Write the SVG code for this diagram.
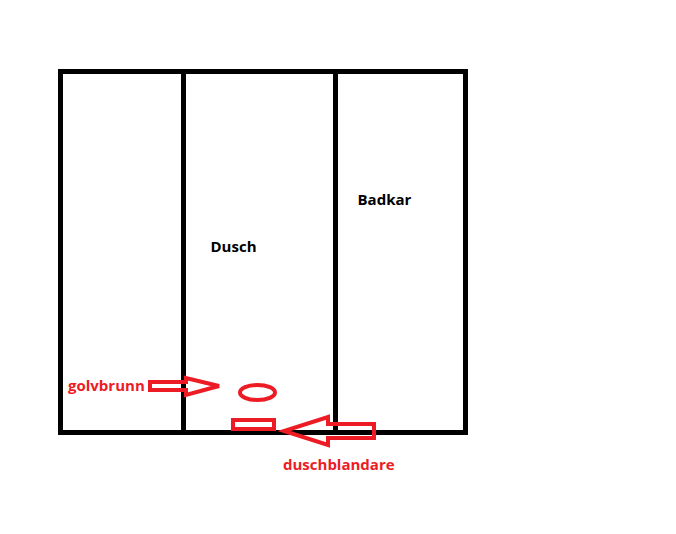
<svg xmlns="http://www.w3.org/2000/svg" width="676" height="534" viewBox="0 0 676 534">
<style>
.wall{fill:none;stroke:#000;stroke-width:5}
.red{fill:none;stroke:#ed1c24;stroke-width:4}
text{font-family:"Open Sans","Noto Sans",sans-serif;font-weight:700;font-size:15px}
.k{fill:#000}
.r{fill:#ed1c24}
</style>
<rect width="676" height="534" fill="#fff"/>
<g id="room">
<rect class="wall" x="60.500" y="71.500" width="405" height="361"/>
<path class="wall" d="M183.500 72V432M335.500 72V432"/>
</g>
<g id="dusch"><text class="k" x="210.500" y="252">Dusch</text></g>
<g id="badkar"><text class="k" x="357.500" y="205">Badkar</text></g>
<g id="golvbrunn-label"><text class="r" x="68" y="391">golvbrunn</text></g>
<g id="golvbrunn"><ellipse class="red" cx="257.500" cy="392.500" rx="17.500" ry="7.500"/></g>
<g id="duschblandare"><rect class="red" x="233" y="420" width="41" height="9"/></g>
<g id="duschblandare-label"><text class="r" x="283" y="470">duschblandare</text></g>
<g id="connectors">
<path class="red" d="M150 382H186V378L219 386L186 395V390H150Z"/>
<path class="red" d="M374 424H328V417L284 431L328 445V438H374Z"/>
</g>
</svg>
